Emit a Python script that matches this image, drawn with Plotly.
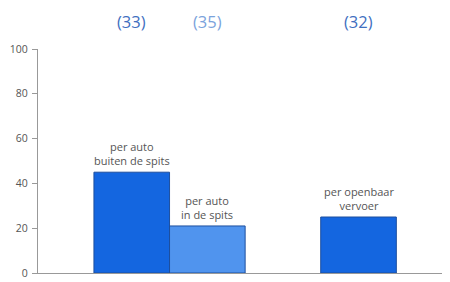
import plotly.graph_objects as go

categories = ["per auto<br>buiten de spits", "per auto<br>in de spits", "per openbaar<br>vervoer"]
positions = [1, 2, 4]
values = [45, 21, 25]
counts = ["(33)", "(35)", "(32)"]
bar_colors = ["#1466e0", "#5094ee", "#1466e0"]
count_colors = ["#3f6fbf", "#7ba3dc", "#3f6fbf"]
y_ticks = [0, 20, 40, 60, 80, 100]

fig = go.Figure()
fig.add_trace(go.Bar(
    x=positions, y=values, width=[1, 1, 1],
    marker=dict(color=bar_colors, line=dict(color="#1d4f9e", width=1)),
    hoverinfo="skip",
))

for xp, v, lab in zip(positions, values, categories):
    fig.add_annotation(x=xp, y=v, text=lab, showarrow=False, yanchor="bottom",
                       yshift=2, font=dict(size=11, color="#555555", family="Open Sans"))
for xp, c, col in zip(positions, counts, count_colors):
    fig.add_annotation(x=xp, xref="x", y=1.18, yref="paper", text=c, showarrow=False,
                       yanchor="top", borderpad=0,
                       font=dict(size=16.5, color=col, family="Open Sans"))

fig.update_layout(
    width=442, height=274,
    margin=dict(l=30, r=0, t=40.5, b=9.3, autoexpand=False),
    plot_bgcolor="white", paper_bgcolor="white",
    showlegend=False,
    font=dict(family="Open Sans", color="#555555"),
    xaxis=dict(range=[-0.24, 5.21], showticklabels=False, ticks="", showgrid=False,
               zeroline=False, showline=True, linecolor="#999999", linewidth=1.2,
               automargin=False),
    yaxis=dict(range=[0, 100], tickvals=y_ticks, ticks="outside", ticklen=5,
               tickcolor="#999999", showgrid=False, zeroline=False, showline=True,
               linecolor="#999999", linewidth=1.2, tickfont=dict(size=10.5, color="#555555"),
               ticklabelstandoff=2, automargin=False),
)
fig.write_html("out.html")
